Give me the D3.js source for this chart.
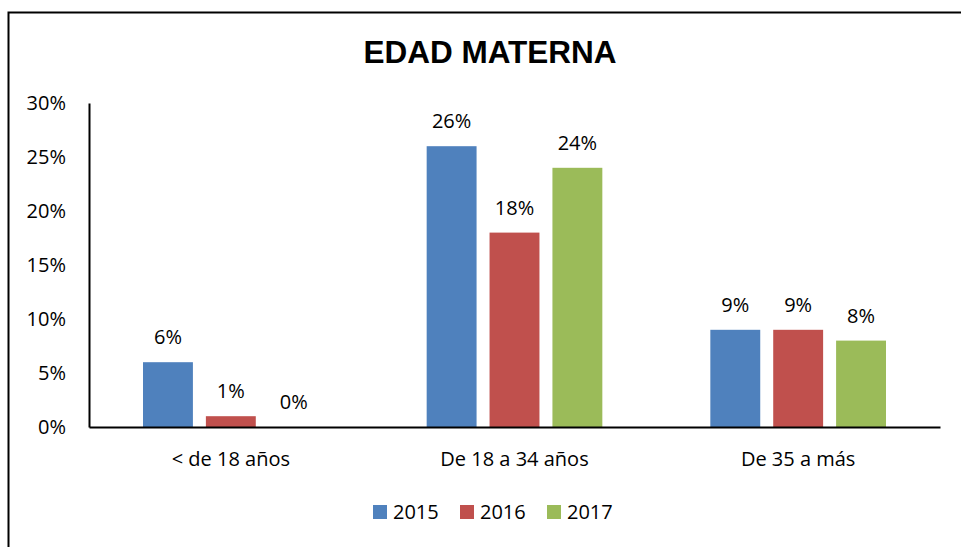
<!DOCTYPE html>
<html lang="es">

<head>
    <meta charset="UTF-8">
    <title>Edad materna</title>
    <script src="https://d3js.org/d3.v7.min.js"></script>
    <style>
        body {
            margin: 0;
            background: #fff;
        }

        .lbl {
            font-family: "Open Sans", sans-serif;
            font-size: 20px;
            fill: #000;
        }
    </style>
</head>

<body>
    <svg width="961" height="547"></svg>

    <script>
        // datos
        const categories = ["< de 18 años", "De 18 a 34 años", "De 35 a más"];
        const years = ["2015", "2016", "2017"];
        const values2015 = [6, 26, 9];
        const values2016 = [1, 18, 9];
        const values2017 = [0, 24, 8];
        const yTicks = [0, 5, 10, 15, 20, 25, 30];

        const series = [values2015, values2016, values2017];
        const colors = ["#4f81bd", "#c0504d", "#9bbb59"];

        const svg = d3.select("svg");

        // marco
        svg.append("rect")
            .attr("x", 8.5).attr("y", 12.5)
            .attr("width", 970).attr("height", 560)
            .attr("fill", "none")
            .attr("stroke", "#000")
            .attr("stroke-width", 2);

        // título
        svg.append("text")
            .attr("x", 490).attr("y", 63)
            .attr("text-anchor", "middle")
            .style("font-family", "Liberation Sans, Arial, sans-serif")
            .style("font-weight", "bold")
            .style("font-size", "31.5px")
            .text("EDAD MATERNA");

        const plotLeft = 89, plotRight = 940, plotTop = 103, plotBottom = 427;

        const x = d3.scaleBand()
            .domain(categories)
            .range([plotLeft, plotRight]);

        const xInner = d3.scaleBand()
            .domain(years)
            .range([54, x.bandwidth() - 54])
            .paddingInner(13 / 63);

        const y = d3.scaleLinear()
            .domain([0, 30])
            .range([plotBottom, plotTop]);

        // eje Y
        const yAxis = svg.append("g")
            .attr("transform", `translate(${plotLeft},0)`)
            .call(d3.axisLeft(y).tickValues(yTicks).tickSize(0).tickPadding(23).tickFormat(d => d + "%"));
        yAxis.select(".domain").attr("stroke", "#000").attr("stroke-width", 2);
        yAxis.selectAll("text").attr("class", "lbl").attr("fill", "#000");

        // barras
        years.forEach((yr, i) => {
            const g = svg.append("g");
            g.selectAll("rect")
                .data(series[i])
                .enter().append("rect")
                .attr("x", (d, j) => x(categories[j]) + xInner(yr))
                .attr("y", d => y(d))
                .attr("width", xInner.bandwidth())
                .attr("height", d => plotBottom - y(d))
                .attr("fill", colors[i]);

            g.selectAll("text")
                .data(series[i])
                .enter().append("text")
                .attr("class", "lbl")
                .attr("x", (d, j) => x(categories[j]) + xInner(yr) + xInner.bandwidth() / 2)
                .attr("y", d => y(d) - 18)
                .attr("text-anchor", "middle")
                .text(d => d + "%");
        });

        // eje X
        const xAxis = svg.append("g")
            .attr("transform", `translate(0,${plotBottom})`)
            .call(d3.axisBottom(x).tickSize(0).tickPadding(25));
        xAxis.select(".domain").attr("stroke", "#000").attr("stroke-width", 2);
        xAxis.selectAll("text").attr("class", "lbl").attr("fill", "#000");

        // leyenda
        const legendX = [373, 460, 547];
        const legend = svg.append("g");
        years.forEach((yr, i) => {
            legend.append("rect")
                .attr("x", legendX[i]).attr("y", 505)
                .attr("width", 14).attr("height", 14)
                .attr("fill", colors[i]);
            legend.append("text")
                .attr("class", "lbl")
                .attr("x", legendX[i] + 20).attr("y", 519)
                .text(yr);
        });
    </script>
</body>

</html>
